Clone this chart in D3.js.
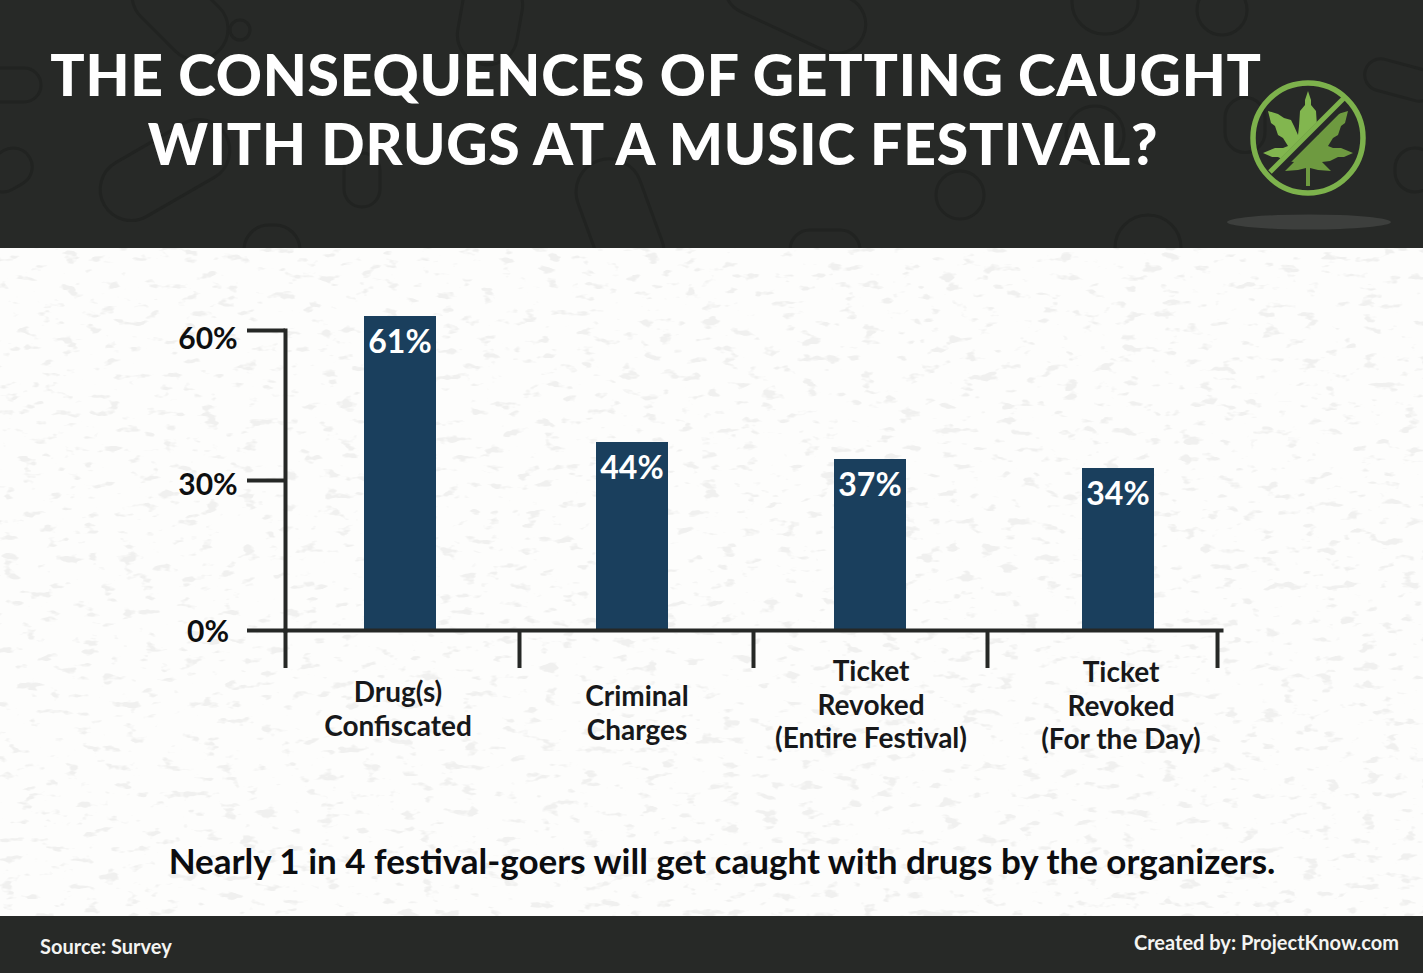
<!DOCTYPE html>
<html>

<head>
  <meta charset="utf-8">
  <script src="https://d3js.org/d3.v7.min.js"></script>
  <style>
    html, body { margin: 0; padding: 0; background: #fcfcfb; }
    svg { display: block; }
    text { font-family: Lato, sans-serif; }
  </style>
</head>

<body>
  <div id="my_dataviz"></div>

  <script>
    // chart values
    var categories = ["Drug(s) Confiscated", "Criminal Charges", "Ticket Revoked (Entire Festival)", "Ticket Revoked (For the Day)"];
    var categoryLines = [["Drug(s)", "Confiscated"], ["Criminal", "Charges"], ["Ticket", "Revoked", "(Entire Festival)"], ["Ticket", "Revoked", "(For the Day)"]];
    var barValues = [62.8, 37.6, 34.2, 32.4]; // bar tops as they sit against the axis
    var valueLabels = ["61%", "44%", "37%", "34%"];
    var yTicks = [0, 30, 60];
    var titleLines = ["THE CONSEQUENCES OF GETTING CAUGHT", "WITH DRUGS AT A MUSIC FESTIVAL?"];
    var noteText = "Nearly 1 in 4 festival-goers will get caught with drugs by the organizers.";
    var sourceText = "Source: Survey";
    var creditText = "Created by: ProjectKnow.com";

    // layout
    var width = 1423, height = 973;
    var barNudge = [-2, -4, 0, 14];
    var labelNudge = [-4, 1, 1, 17];
    var labelTop = [702, 706, 681, 682];

    // faint pills and tablets behind the title: cx, cy, w, h, rotation
    var pills = [
      [180, 12, 110, 62, 45], [165, 170, 140, 62, -30], [10, 85, 62, 34, 0], [8, 170, 50, 38, -30],
      [362, 180, 36, 54, 0], [272, 250, 56, 50, 0], [490, 20, 60, 90, 10], [795, 5, 150, 58, 25],
      [620, 222, 66, 130, -20], [825, 250, 70, 40, 0], [1105, 2, 66, 64, 0], [1222, 10, 50, 50, 0],
      [1400, 80, 72, 32, 15], [1245, 125, 40, 55, 0], [960, 195, 48, 48, 0], [1148, 248, 66, 66, 0],
      [1095, 135, 58, 58, 0], [1415, 170, 40, 44, 0], [240, 30, 20, 20, 0]
    ];

    // half of the leaf, mirrored for the other side
    var leafHalf = [[0, -47], [-3, -38], [-3, -33], [-8, -27], [-9, -12], [-10, -3], [-14, -12], [-17, -18], [-24, -20],
      [-30, -24], [-40, -27], [-37, -15], [-33, -12], [-30, -3], [-25, 0], [-20, 8], [-25, 10], [-33, 10], [-45, 15],
      [-36, 19], [-30, 19], [-22, 23], [-14, 24], [-23, 33], [-10, 32], [-2, 30], [-2, 48], [0, 48]];

    var svg = d3.select("#my_dataviz")
      .append("svg")
      .attr("width", width)
      .attr("height", height);

    var defs = svg.append("defs");

    // paper speckle for the white panel
    var speck = defs.append("filter").attr("id", "speck")
      .attr("x", 0).attr("y", 0).attr("width", 1).attr("height", 1);
    speck.append("feTurbulence")
      .attr("type", "fractalNoise").attr("baseFrequency", "0.05 0.11")
      .attr("numOctaves", 3).attr("seed", 7);
    speck.append("feColorMatrix").attr("type", "matrix")
      .attr("values", "0 0 0 0 0.80  0 0 0 0 0.80  0 0 0 0 0.79  0 0 0 9 -5.6");

    svg.append("rect").attr("width", width).attr("height", height).attr("fill", "#fdfdfc");
    svg.append("rect").attr("y", 248).attr("width", width).attr("height", 668)
      .attr("filter", "url(#speck)").attr("opacity", 0.55);

    // header and footer bands
    svg.append("rect").attr("width", width).attr("height", 248).attr("fill", "#272927");
    svg.append("rect").attr("y", 916).attr("width", width).attr("height", 57).attr("fill", "#272927");

    var pillGroup = svg.append("g");
    pillGroup.selectAll("rect")
      .data(pills)
      .enter()
      .append("rect")
      .attr("x", function (d) { return -d[2] / 2; })
      .attr("y", function (d) { return -d[3] / 2; })
      .attr("width", function (d) { return d[2]; })
      .attr("height", function (d) { return d[3]; })
      .attr("rx", function (d) { return Math.min(d[2], d[3]) / 2; })
      .attr("transform", function (d) { return "translate(" + d[0] + "," + d[1] + ") rotate(" + d[4] + ")"; })
      .attr("fill", "none")
      .attr("stroke", "#212321")
      .attr("stroke-width", 3);
    // keep the pills inside the header
    defs.append("clipPath").attr("id", "headClip").append("rect").attr("width", width).attr("height", 248);
    pillGroup.attr("clip-path", "url(#headClip)");

    // title
    svg.selectAll(".title")
      .data(titleLines)
      .enter()
      .append("text")
      .attr("class", "title")
      .attr("x", function (d, i) { return i == 0 ? 656 : 653; })
      .attr("y", function (d, i) { return i == 0 ? 96 : 165; })
      .attr("text-anchor", "middle")
      .attr("font-size", 57)
      .attr("font-weight", 900)
      .attr("letter-spacing", 0.8)
      .attr("fill", "#ffffff")
      .text(function (d) { return d; });

    // no-drugs badge
    var badge = svg.append("g").attr("transform", "translate(1308,138)");
    var leafLine = d3.line();
    var leafPoints = leafHalf.concat(leafHalf.slice().reverse().map(function (p) { return [-p[0], p[1]]; }));
    defs.append("clipPath").attr("id", "leafUpper").append("path").attr("d", "M-70,70L70,-70L-70,-70Z");
    defs.append("clipPath").attr("id", "leafLower").append("path").attr("d", "M-70,70L70,-70L70,70Z");
    badge.append("path").attr("d", leafLine(leafPoints) + "Z").attr("fill", "#82b64f").attr("clip-path", "url(#leafUpper)");
    badge.append("path").attr("d", leafLine(leafPoints) + "Z").attr("fill", "#6e9a40").attr("clip-path", "url(#leafLower)");
    badge.append("line").attr("x1", -35).attr("y1", 35).attr("x2", 38).attr("y2", -38)
      .attr("stroke", "#272927").attr("stroke-width", 10);
    badge.append("line").attr("x1", -38).attr("y1", 34).attr("x2", 36).attr("y2", -40)
      .attr("stroke", "#7db24c").attr("stroke-width", 5);
    badge.append("circle").attr("r", 55).attr("fill", "none").attr("stroke", "#7db24c").attr("stroke-width", 5.5);
    svg.append("ellipse").attr("cx", 1309).attr("cy", 222).attr("rx", 82).attr("ry", 7.5).attr("fill", "#3d3f3d");

    // scales
    var x = d3.scaleBand().domain(categories).range([285, 1221]);
    var xEdge = d3.scaleLinear().domain([0, 4]).range([285, 1221]);
    var y = d3.scaleLinear().domain([0, 60]).range([630, 330]);
    var yLabel = d3.scaleLinear().domain([0, 60]).range([641, 348]);

    // bars go under the axis line
    svg.append("g").selectAll("rect")
      .data(categories)
      .enter()
      .append("rect")
      .attr("x", function (d, i) { return x(d) + x.bandwidth() / 2 + barNudge[i] - 36; })
      .attr("y", function (d, i) { return y(barValues[i]); })
      .attr("width", 72)
      .attr("height", function (d, i) { return y(0) - y(barValues[i]); })
      .attr("fill", "#1a3f5d");

    svg.append("g").selectAll("text")
      .data(valueLabels)
      .enter()
      .append("text")
      .attr("x", function (d, i) { return x(categories[i]) + x.bandwidth() / 2 + barNudge[i]; })
      .attr("y", function (d, i) { return y(barValues[i]) + 37; })
      .attr("text-anchor", "middle")
      .attr("font-size", 32)
      .attr("font-weight", 700)
      .attr("fill", "#ffffff")
      .text(function (d) { return d; });

    // axes
    var xAxis = svg.append("g")
      .attr("transform", "translate(0,630)")
      .call(d3.axisBottom(xEdge).tickValues([0, 1, 2, 3, 3.983]).tickSize(38).tickSizeOuter(0).tickFormat(""));
    var yAxis = svg.append("g")
      .attr("transform", "translate(285,0)")
      .call(d3.axisLeft(y).tickValues(yTicks).tickSize(38).tickSizeOuter(0).tickFormat(function (d) { return d + "%"; }));

    svg.selectAll(".domain").attr("stroke", "#262826").attr("stroke-width", 4).attr("stroke-linecap", "square");
    svg.selectAll(".tick line").attr("stroke", "#262826").attr("stroke-width", 4);
    yAxis.selectAll(".tick text")
      .attr("font-family", "Lato, sans-serif")
      .attr("font-size", 30)
      .attr("font-weight", 700)
      .attr("fill", "#0e0f10")
      .attr("text-anchor", "middle")
      .attr("x", -77)
      .attr("dy", 0)
      .attr("y", function (d) { return yLabel(d) - y(d); });

    // category labels
    svg.append("g").selectAll("text")
      .data(categoryLines)
      .enter()
      .append("text")
      .attr("text-anchor", "middle")
      .attr("font-size", 28)
      .attr("font-weight", 700)
      .attr("fill", "#17181a")
      .each(function (lines, i) {
        d3.select(this).selectAll("tspan")
          .data(lines)
          .enter()
          .append("tspan")
          .attr("x", x(categories[i]) + x.bandwidth() / 2 + labelNudge[i])
          .attr("y", function (d, j) { return labelTop[i] + j * 33.5; })
          .text(function (d) { return d; });
      });

    // note and footer
    svg.append("text")
      .attr("x", 722).attr("y", 874)
      .attr("text-anchor", "middle")
      .attr("font-size", 35)
      .attr("font-weight", 700)
      .attr("fill", "#0c0d10")
      .text(noteText);

    svg.append("text")
      .attr("x", 40).attr("y", 954)
      .attr("font-size", 20)
      .attr("font-weight", 700)
      .attr("fill", "#f4f4f2")
      .text(sourceText);

    svg.append("text")
      .attr("x", 1399).attr("y", 950)
      .attr("text-anchor", "end")
      .attr("font-size", 20)
      .attr("font-weight", 700)
      .attr("fill", "#f4f4f2")
      .text(creditText);
  </script>
</body>

</html>
